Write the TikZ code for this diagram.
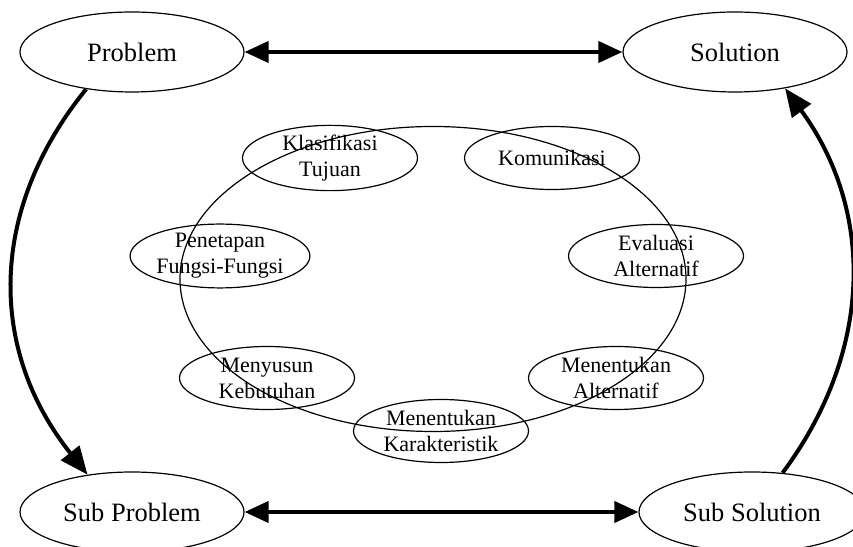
\documentclass[tikz,border=0pt]{standalone}
\usepackage{fontspec}
\setmainfont{Liberation Serif}
\usetikzlibrary{shapes.geometric,arrows.meta}

\begin{document}
\begin{tikzpicture}[x=1pt,y=1pt,
  mainbox/.style={draw, ellipse, line width=1.2pt, inner sep=0pt,
    minimum width=224pt, minimum height=80pt,
    font=\fontsize{26.5}{30}\selectfont},
  stagebox/.style={draw, ellipse, line width=1.2pt, inner sep=0pt,
    minimum width=175pt, minimum height=63pt, align=center,
    font=\fontsize{22}{26}\selectfont},
  ringbox/.style={draw, ellipse, line width=1.2pt, inner sep=0pt,
    minimum width=506pt, minimum height=305pt},
  linkarrow/.style={line width=4pt, {Triangle[length=24pt,width=21pt]}-{Triangle[length=24pt,width=21pt]}},
  flowarrow/.style={line width=4pt, -{Triangle[length=28pt,width=23pt]}}
]
\useasboundingbox (0,0) rectangle (853,546);

% four corner states
\node[mainbox] (prob)    at (132,494) {Problem};
\node[mainbox] (sol)     at (735,494) {Solution};
\node[mainbox] (subprob) at (132,34)  {Sub Problem};
\node[mainbox, minimum width=226pt] (subsol) at (752,34) {Sub Solution};

% design cycle
\node[ringbox] (ring) at (433,267) {};
\node[stagebox] (klas) at (330,388) {Klasifikasi\\Tujuan};
\node[stagebox] (kom)  at (552,388) {Komunikasi};
\node[stagebox] (pen)  at (220,290) {Penetapan\\Fungsi-Fungsi};
\node[stagebox] (eval) at (656,290) {Evaluasi\\Alternatif};
\node[stagebox] (meny) at (267,168) {Menyusun\\Kebutuhan};
\node[stagebox] (malt) at (616,168) {Menentukan\\Alternatif};
\node[stagebox] (kar)  at (441,115) {Menentukan\\Karakteristik};

% connectors
\draw[linkarrow] (prob) -- (sol);
\draw[linkarrow] (subprob) -- (subsol);
\draw[flowarrow] (prob.-141) .. controls (-12,336) and (-12,196) .. (subprob.140);
\draw[flowarrow] (subsol.52) .. controls (874,196) and (874,336) .. (sol.-36);
\end{tikzpicture}
\end{document}
